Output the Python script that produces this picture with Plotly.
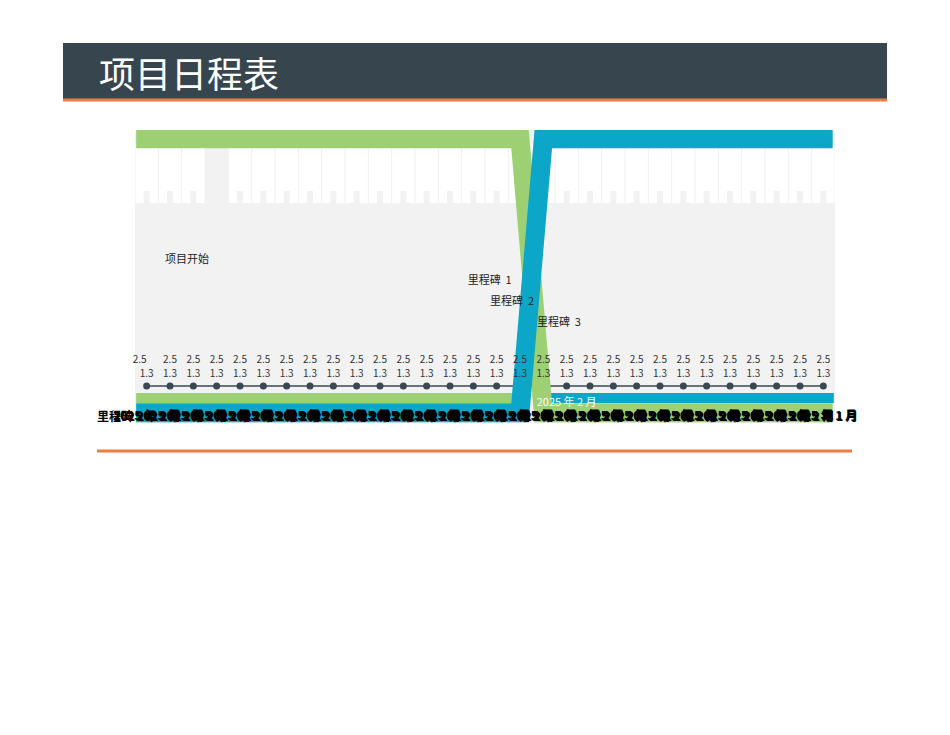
import plotly.graph_objects as go

# datos del cronograma
idx = list(range(30))
val_arriba = ["2.5"] * 30
val_abajo = ["1.3"] * 30
fechas = ["2025 年 2 月"] * 29 + ["2025 年 1 月"]

# niveles (eje y oculto 0..10)
nivel_puntos = [1.26] * 30
nivel_txt_arriba = [2.12] * 30
nivel_txt_abajo = [1.64] * 30
nivel_fechas = [0.22] * 30

# barras verdes / azules de fase
x_fase = [-0.45] + idx + [29.4]
fase_verde = [9.7] * 18 + [0.35] * 14
fase_azul = [0.35] * 18 + [9.7] * 14
x_base_verde = [-0.45, 16.1]
base_verde = [0.85, 0.85]
x_base_azul = [16.9, 29.45]
base_azul = [0.85, 0.85]

# columnas blancas de arriba (la 3 queda gris)
col_base = 7.51
col_alto = [0.0 if i == 3 else 2.0 for i in idx]
muesca_alto = [0.41] * 30

# hitos
hitos = ["项目开始", "里程碑  1", "里程碑  2", "里程碑  3"]
hitos_x = [1.73, 14.7, 15.66, 17.67]
hitos_y = [5.56, 4.85, 4.13, 3.41]

verde = "#9dd073"
azul = "#0ca7c8"
gris = "#f2f2f2"
oscuro = "#3a4852"
naranja = "#ef7d42"

fig = go.Figure()

fig.add_trace(go.Bar(x=idx, y=col_alto, base=col_base, width=0.955,
                     marker=dict(color="white", line=dict(width=0)), hoverinfo="skip"))
fig.add_trace(go.Bar(x=idx, y=muesca_alto, base=col_base, width=0.26,
                     marker=dict(color=gris, line=dict(width=0)), hoverinfo="skip"))

# linea de puntos
fig.add_trace(go.Scatter(x=idx, y=nivel_puntos, mode="lines+markers",
                         line=dict(color=oscuro, width=1.5),
                         marker=dict(color=oscuro, size=7), hoverinfo="skip"))

# bases finas
fig.add_trace(go.Scatter(x=x_base_verde, y=base_verde, mode="lines",
                         line=dict(color=verde, width=10), hoverinfo="skip"))
fig.add_trace(go.Scatter(x=x_base_azul, y=base_azul, mode="lines",
                         line=dict(color=azul, width=10), hoverinfo="skip"))

# fases gruesas
fig.add_trace(go.Scatter(x=x_fase, y=fase_verde, mode="lines",
                         line=dict(color=verde, width=19), hoverinfo="skip"))
fig.add_trace(go.Scatter(x=x_fase, y=fase_azul, mode="lines",
                         line=dict(color=azul, width=19), hoverinfo="skip"))

# etiquetas 2.5 / 1.3 (la primera 2.5 queda corrida a la izquierda)
pos_arriba = ["middle left"] + ["middle center"] * 29
fig.add_trace(go.Scatter(x=idx, y=nivel_txt_arriba, mode="text", text=val_arriba,
                         textposition=pos_arriba,
                         textfont=dict(size=10, color="#333333", family="Noto Sans CJK SC"),
                         hoverinfo="skip", cliponaxis=False))
fig.add_trace(go.Scatter(x=idx, y=nivel_txt_abajo, mode="text", text=val_abajo,
                         textfont=dict(size=10, color="#333333", family="Noto Sans CJK SC"),
                         hoverinfo="skip", cliponaxis=False))

# hitos
fig.add_trace(go.Scatter(x=hitos_x, y=hitos_y, mode="text", text=hitos,
                         textfont=dict(size=11, color="#222222", family="Noto Sans CJK SC"),
                         hoverinfo="skip", cliponaxis=False))

# fechas encimadas (se ven como una franja negra)
fig.add_trace(go.Scatter(x=idx, y=nivel_fechas, mode="text", text=fechas,
                         textfont=dict(size=12, color="black", family="Noto Sans CJK SC",
                                       weight="bold", shadow="1px 1px 0px black"),
                         hoverinfo="skip", cliponaxis=False))
fig.add_trace(go.Scatter(x=[18.0], y=[0.68], mode="text", text=["2025 年 2 月"],
                         textfont=dict(size=11, color="white", family="Noto Sans CJK SC"),
                         hoverinfo="skip", cliponaxis=False))

W, H = 950, 735
# la pagina tiene 8px de margen, lo descuento
def px(x):
    return (x - 8) / W
def py(y):
    return 1 - (y - 8) / H

fig.add_annotation(text="里程碑", xref="paper", yref="paper", x=px(95), y=py(415),
                   xanchor="left", yanchor="middle", showarrow=False,
                   font=dict(size=12, color="black", family="Noto Sans CJK SC", weight="bold"))

# encabezado
fig.add_shape(type="rect", xref="paper", yref="paper", x0=px(63), x1=px(887),
              y0=py(99), y1=py(43), fillcolor="#36454e", line=dict(width=0), layer="below")
fig.add_shape(type="line", xref="paper", yref="paper", x0=px(63), x1=px(887),
              y0=py(100), y1=py(100), line=dict(color=naranja, width=3))
fig.add_shape(type="line", xref="paper", yref="paper", x0=px(97), x1=px(852),
              y0=py(451), y1=py(451), line=dict(color=naranja, width=3))
fig.add_annotation(text="项目日程表", xref="paper", yref="paper", x=px(97), y=py(72),
                   xanchor="left", yanchor="middle", showarrow=False,
                   font=dict(size=36, color="white", family="Noto Sans CJK SC"))

fig.update_layout(
    width=W, height=H,
    margin=dict(l=0, r=0, t=0, b=0),
    paper_bgcolor="white",
    plot_bgcolor=gris,
    showlegend=False,
    barmode="overlay",
    xaxis=dict(domain=[px(135), px(835)], range=[-0.5, 29.5],
               showgrid=False, zeroline=False, showticklabels=False, fixedrange=True),
    yaxis=dict(domain=[py(423), py(130)], range=[0, 10],
               showgrid=False, zeroline=False, showticklabels=False, fixedrange=True),
)

fig.write_html("out.html")
